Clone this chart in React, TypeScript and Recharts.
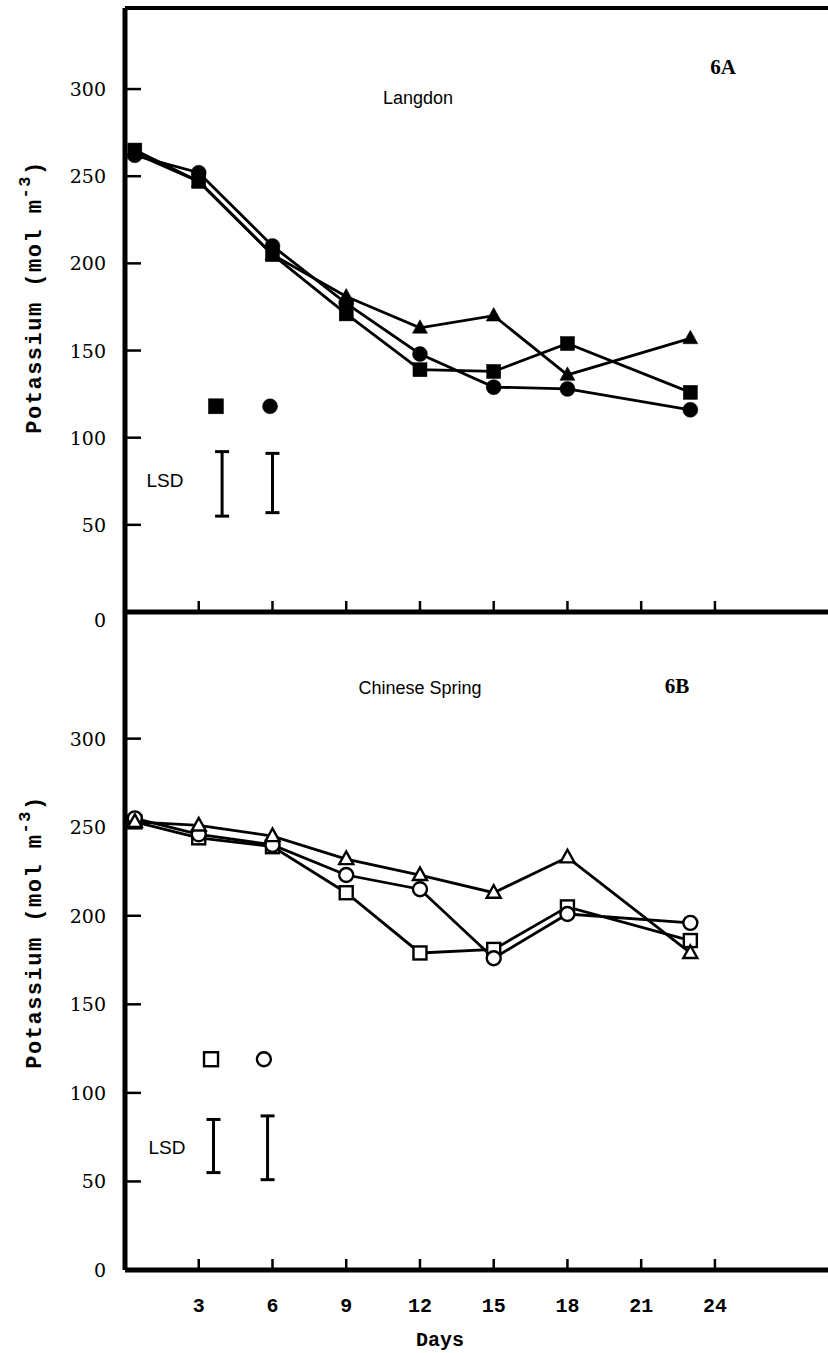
import React from 'react';
import { ComposedChart, Line, Scatter, ErrorBar, XAxis, YAxis, ReferenceLine } from 'recharts';

// sampling days (first sample just after day 0)
const days = [0.4, 3, 6, 9, 12, 15, 18, 23];

// 6A Langdon (filled symbols)
const langdonCircle = [262, 252, 210, 177, 148, 129, 128, 116];
const langdonSquare = [265, 247, 205, 171, 139, 138, 154, 126];
const langdonTriangle = [263, 247, 205, 181, 163, 170, 136, 157];

// 6B Chinese Spring (open symbols)
const csCircle = [255, 246, 240, 223, 215, 176, 201, 196];
const csSquare = [253, 244, 239, 213, 179, 181, 205, 186];
const csTriangle = [253, 251, 245, 232, 223, 213, 233, 179];

// LSD markers and bars
const lsdMarkA = [{ day: 3.7, k: 118, kind: 'square' }, { day: 5.9, k: 118, kind: 'circle' }];
const lsdBarDaysA = [3.95, 6.0];
const lsdLowA = [55, 57];
const lsdHighA = [92, 91];

const lsdMarkB = [{ day: 3.5, k: 119, kind: 'square' }, { day: 5.65, k: 119, kind: 'circle' }];
const lsdBarDaysB = [3.6, 5.8];
const lsdLowB = [55, 51];
const lsdHighB = [85, 87];

const yTicks = [0, 50, 100, 150, 200, 250, 300];
const xTicks = [3, 6, 9, 12, 15, 18, 21, 24];

const X_MAX = 28.6;
const Y_MAX_A = 346.5;
const Y_MAX_B = 371.5;

const rows = (vals: number[]) => days.map((d, i) => ({ day: d, k: vals[i] }));
const bars = (ds: number[], lo: number[], hi: number[]) =>
  ds.map((d, i) => ({ day: d, mid: (lo[i] + hi[i]) / 2, err: (hi[i] - lo[i]) / 2 }));

const Marker = ({ cx, cy, kind, filled, size }: any) => {
  if (cx == null || cy == null) return <g />;
  const fill = filled ? '#000' : '#fff';
  const sw = filled ? 0.5 : 2.4;
  if (kind === 'circle') {
    return <circle cx={cx} cy={cy} r={size / 2} fill={fill} stroke="#000" strokeWidth={sw} />;
  }
  if (kind === 'square') {
    return <rect x={cx - size / 2} y={cy - size / 2} width={size} height={size} fill={fill} stroke="#000" strokeWidth={sw} />;
  }
  const h = size * 0.9;
  const pts = `${cx},${cy - h * 0.6} ${cx - size / 2},${cy + h * 0.4} ${cx + size / 2},${cy + h * 0.4}`;
  return <polygon points={pts} fill={fill} stroke="#000" strokeWidth={sw} strokeLinejoin="miter" />;
};

const dotFor = (kind: string, filled: boolean, size: number) => (p: any) =>
  <Marker key={`${kind}-${p.index}`} cx={p.cx} cy={p.cy} kind={kind} filled={filled} size={size} />;

const YTick = ({ x, y, payload, zeroShift = 0 }: any) => (
  <g>
    <line x1={x} x2={x + 16} y1={y} y2={y} stroke="#000" strokeWidth={2.5} />
    <text
      x={x - 19}
      y={y + (payload.value === 0 ? zeroShift : 0)}
      textAnchor="end"
      dominantBaseline="central"
      fontFamily="DejaVu Serif"
      fontSize={19}
      fill="#000"
    >
      {payload.value}
    </text>
  </g>
);

const XTick = ({ x, y, payload, showLabel }: any) => (
  <g>
    <line x1={x} x2={x} y1={y} y2={y - 11} stroke="#000" strokeWidth={2.5} />
    {showLabel && (
      <text x={x} y={y + 36} textAnchor="middle" dominantBaseline="central"
        fontFamily="Liberation Mono" fontWeight="bold" fontSize={20} fill="#000">
        {payload.value}
      </text>
    )}
  </g>
);

const axisLine = { stroke: '#000', strokeWidth: 5 };

const Panel = ({ top, height, margin, yMax, xAxisHeight, series, marks, barRows, filled, showXLabels, zeroShift, topBorder }: any) => (
  <div style={{ position: 'absolute', left: 0, top }}>
    <ComposedChart width={828} height={height} margin={margin}>
      <XAxis
        type="number"
        dataKey="day"
        domain={[0, X_MAX]}
        ticks={xTicks}
        allowDataOverflow
        height={xAxisHeight}
        axisLine={axisLine}
        tickLine={false}
        tickSize={0}
        tickMargin={0}
        tick={(p: any) => <XTick {...p} showLabel={showXLabels} />}
      />
      <YAxis
        type="number"
        domain={[0, yMax]}
        ticks={yTicks}
        allowDataOverflow
        width={125}
        axisLine={axisLine}
        tickLine={false}
        tickSize={0}
        tickMargin={0}
        tick={(p: any) => <YTick {...p} zeroShift={zeroShift} />}
      />
      {topBorder && <ReferenceLine y={yMax} stroke="#000" strokeWidth={4} />}
      {series.map((s: any) => (
        <Line
          key={s.kind}
          data={rows(s.vals)}
          dataKey="k"
          stroke="#000"
          strokeWidth={2.8}
          dot={dotFor(s.kind, filled, s.size)}
          isAnimationActive={false}
        />
      ))}
      {marks.map((m: any) => (
        <Scatter
          key={`m-${m.kind}`}
          data={[m]}
          dataKey="k"
          isAnimationActive={false}
          shape={(p: any) => <Marker cx={p.cx} cy={p.cy} kind={m.kind} filled={filled} size={filled ? 15 : 14} />}
        />
      ))}
      <Scatter data={barRows} dataKey="mid" isAnimationActive={false} shape={() => <g />}>
        <ErrorBar dataKey="err" direction="y" width={7} stroke="#000" strokeWidth={3} isAnimationActive={false} />
      </Scatter>
    </ComposedChart>
  </div>
);

const T = (p: any) => <text fill="#000" textAnchor="middle" dominantBaseline="central" {...p} />;

const App = () => {
  const seriesA = [
    { kind: 'triangle', vals: langdonTriangle, size: 15 },
    { kind: 'square', vals: langdonSquare, size: 14 },
    { kind: 'circle', vals: langdonCircle, size: 15 },
  ];
  const seriesB = [
    { kind: 'square', vals: csSquare, size: 13 },
    { kind: 'circle', vals: csCircle, size: 14 },
    { kind: 'triangle', vals: csTriangle, size: 14 },
  ];
  return (
    <div style={{ position: 'absolute', left: 0, top: 0, width: 828, height: 1353, background: '#fff' }}>
      <Panel
        top={0}
        height={640}
        margin={{ top: 8, right: 0, bottom: 0, left: 0 }}
        xAxisHeight={28}
        yMax={Y_MAX_A}
        series={seriesA}
        marks={lsdMarkA}
        barRows={bars(lsdBarDaysA, lsdLowA, lsdHighA)}
        filled
        showXLabels={false}
        zeroShift={8}
        topBorder
      />
      <Panel
        top={600}
        height={753}
        margin={{ top: 12, right: 0, bottom: 0, left: 0 }}
        xAxisHeight={83}
        yMax={Y_MAX_B}
        series={seriesB}
        marks={lsdMarkB}
        barRows={bars(lsdBarDaysB, lsdLowB, lsdHighB)}
        filled={false}
        showXLabels
        zeroShift={0}
        topBorder={false}
      />
      <svg width={828} height={1353} style={{ position: 'absolute', left: 0, top: 0, pointerEvents: 'none' }}>
        <T x={418} y={98} fontFamily="Liberation Sans" fontSize={18}>Langdon</T>
        <T x={723} y={67} fontFamily="Liberation Serif" fontWeight="bold" fontSize={21}>6A</T>
        <T x={420} y={688} fontFamily="Liberation Sans" fontSize={18}>Chinese Spring</T>
        <T x={677} y={686} fontFamily="Liberation Serif" fontWeight="bold" fontSize={21}>6B</T>
        <T x={165} y={480} fontFamily="Liberation Sans" fontSize={19}>LSD</T>
        <T x={167} y={1147} fontFamily="Liberation Sans" fontSize={19}>LSD</T>
        {[297, 932].map((cy) => (
          <T key={cy} x={35} y={cy} transform={`rotate(-90 35 ${cy})`}
            fontFamily="Liberation Mono" fontWeight="bold" fontSize={22} letterSpacing={1.5}>
            Potassium (mol m
            <tspan dy={-10} fontSize={17}>-3</tspan>
            <tspan dy={10}>)</tspan>
          </T>
        ))}
        <T x={440} y={1340} fontFamily="Liberation Mono" fontWeight="bold" fontSize={20}>Days</T>
      </svg>
    </div>
  );
};

export default App;
